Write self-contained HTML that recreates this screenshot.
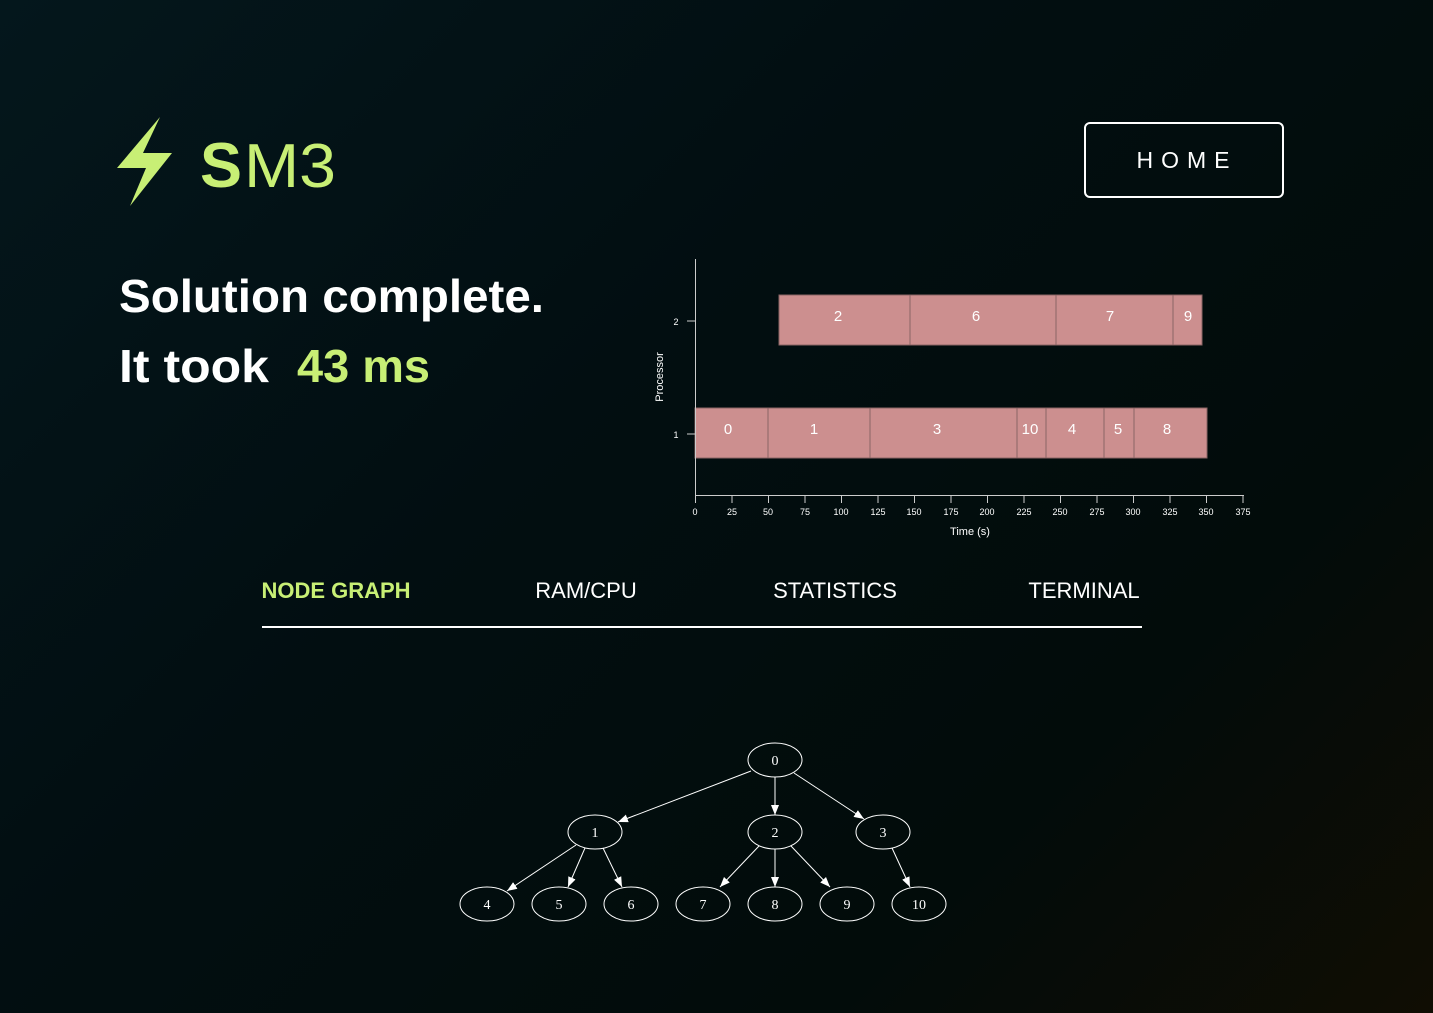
<!DOCTYPE html>
<html><head><meta charset="utf-8"><style>
html,body{margin:0;padding:0;}
body{width:1433px;height:1013px;overflow:hidden;background:linear-gradient(135deg,#04171c 0%,#020e11 40%,#020c0a 75%,#100d03 100%);font-family:"Liberation Sans",sans-serif;}
</style></head><body>
<svg width="1433" height="1013" viewBox="0 0 1433 1013" xmlns="http://www.w3.org/2000/svg" style="position:absolute;left:0;top:0">
<defs>
<marker id="ah" viewBox="0 0 10 10" refX="10" refY="5" markerWidth="10" markerHeight="10" markerUnits="userSpaceOnUse" orient="auto"><path d="M0,1 L10,5 L0,9 z" fill="#fff"/></marker>
</defs>
<polygon points="160,117 117,168 146,168 130,206 172,153 143,153" fill="#c8ef75"/>
<text x="200" y="187" font-family="Liberation Sans" font-weight="bold" font-size="63" fill="#c8ef75">S</text>
<text x="244" y="187" font-family="Liberation Sans" font-size="62" fill="#c8ef75" textLength="92" lengthAdjust="spacingAndGlyphs">M3</text>
<rect x="1085" y="123" width="198" height="74" rx="5" fill="none" stroke="#fff" stroke-width="2"/>
<text x="1187" y="168" font-size="23" fill="#fff" text-anchor="middle" letter-spacing="8">HOME</text>
<text x="119" y="312" font-weight="bold" font-size="46" fill="#fff" textLength="425" lengthAdjust="spacingAndGlyphs">Solution complete.</text>
<text x="119" y="382" font-weight="bold" font-size="46" fill="#fff" textLength="150" lengthAdjust="spacingAndGlyphs">It took</text>
<text x="297" y="382" font-weight="bold" font-size="46" fill="#c8ef75" textLength="133" lengthAdjust="spacingAndGlyphs">43 ms</text>
<g fill="#cc8f8f" stroke="#8a6464" stroke-width="1">
<rect x="779" y="295" width="131" height="50"/><rect x="910" y="295" width="146" height="50"/><rect x="1056" y="295" width="117" height="50"/><rect x="1173" y="295" width="29" height="50"/>
<rect x="695" y="408" width="73" height="50"/><rect x="768" y="408" width="102" height="50"/><rect x="870" y="408" width="147" height="50"/><rect x="1017" y="408" width="29" height="50"/><rect x="1046" y="408" width="58" height="50"/><rect x="1104" y="408" width="30" height="50"/><rect x="1134" y="408" width="73" height="50"/>
</g>
<g fill="#fff" font-size="15" text-anchor="middle">
<text x="838" y="321">2</text><text x="976" y="321">6</text><text x="1110" y="321">7</text><text x="1188" y="321">9</text>
<text x="728" y="434">0</text><text x="814" y="434">1</text><text x="937" y="434">3</text><text x="1030" y="434">10</text><text x="1072" y="434">4</text><text x="1118" y="434">5</text><text x="1167" y="434">8</text>
</g>
<g stroke="#ccc" stroke-width="1" fill="none">
<line x1="695.5" y1="259" x2="695.5" y2="495"/>
<line x1="695" y1="495.5" x2="1244" y2="495.5"/>
<line x1="687" y1="321" x2="695" y2="321"/><line x1="687" y1="434" x2="695" y2="434"/>
<path d="M695.5,495V503M732,495V503M768.5,495V503M805,495V503M841.5,495V503M878,495V503M914.5,495V503M951,495V503M987.5,495V503M1024,495V503M1060.5,495V503M1097,495V503M1133.5,495V503M1170,495V503M1206.5,495V503M1243,495V503"/>
</g>
<g fill="#fff" font-size="9" text-anchor="middle">
<text x="695" y="515">0</text><text x="732" y="515">25</text><text x="768" y="515">50</text><text x="805" y="515">75</text><text x="841" y="515">100</text><text x="878" y="515">125</text><text x="914" y="515">150</text><text x="951" y="515">175</text><text x="987" y="515">200</text><text x="1024" y="515">225</text><text x="1060" y="515">250</text><text x="1097" y="515">275</text><text x="1133" y="515">300</text><text x="1170" y="515">325</text><text x="1206" y="515">350</text><text x="1243" y="515">375</text>
<text x="676" y="325">2</text><text x="676" y="438">1</text>
<text x="970" y="535" font-size="11">Time (s)</text>
<text x="0" y="0" font-size="11" transform="translate(663,377) rotate(-90)">Processor</text>
</g>
<g font-size="22" text-anchor="middle">
<text x="336" y="598" fill="#c8ef75" font-weight="bold">NODE GRAPH</text>
<text x="586" y="598" fill="#fff">RAM/CPU</text>
<text x="835" y="598" fill="#fff">STATISTICS</text>
<text x="1084" y="598" fill="#fff">TERMINAL</text>
</g>
<rect x="262" y="626" width="880" height="2" fill="#fff"/>
<g stroke="#fff" stroke-width="1" fill="none">
<ellipse cx="775" cy="760" rx="27" ry="17"/>
<ellipse cx="595" cy="832" rx="27" ry="17"/><ellipse cx="775" cy="832" rx="27" ry="17"/><ellipse cx="883" cy="832" rx="27" ry="17"/>
<ellipse cx="487" cy="904" rx="27" ry="17"/><ellipse cx="559" cy="904" rx="27" ry="17"/><ellipse cx="631" cy="904" rx="27" ry="17"/><ellipse cx="703" cy="904" rx="27" ry="17"/><ellipse cx="775" cy="904" rx="27" ry="17"/><ellipse cx="847" cy="904" rx="27" ry="17"/><ellipse cx="919" cy="904" rx="27" ry="17"/>
<g marker-end="url(#ah)">
<line x1="751" y1="771" x2="618" y2="822"/>
<line x1="775" y1="777" x2="775" y2="815"/>
<line x1="794" y1="773" x2="864" y2="819"/>
<line x1="576" y1="845" x2="507" y2="891"/>
<line x1="585" y1="848" x2="568" y2="887"/>
<line x1="603" y1="848" x2="622" y2="887"/>
<line x1="759" y1="846" x2="720" y2="887"/>
<line x1="775" y1="849" x2="775" y2="887"/>
<line x1="791" y1="846" x2="830" y2="887"/>
<line x1="892" y1="848" x2="910" y2="887"/>
</g>
</g>
<g fill="#fff" font-family="Liberation Serif" font-size="14" text-anchor="middle">
<text x="775" y="765">0</text><text x="595" y="837">1</text><text x="775" y="837">2</text><text x="883" y="837">3</text>
<text x="487" y="909">4</text><text x="559" y="909">5</text><text x="631" y="909">6</text><text x="703" y="909">7</text><text x="775" y="909">8</text><text x="847" y="909">9</text><text x="919" y="909">10</text>
</g>
</svg>
</body></html>
